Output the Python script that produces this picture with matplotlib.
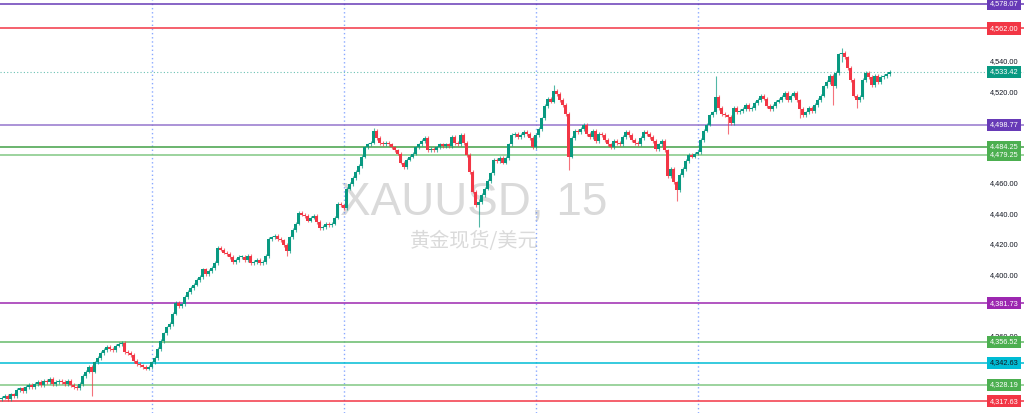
import matplotlib
matplotlib.use('Agg')
import matplotlib.pyplot as plt
import matplotlib.transforms as mtransforms
import numpy as np

# XAUUSD 15m closes (left to right)
first_open = 4319
closes = [
    4320, 4321, 4319, 4322, 4321, 4325, 4326, 4324, 4327, 4328,
    4327, 4329, 4330, 4328, 4331, 4330, 4332, 4329, 4330, 4331,
    4330, 4329, 4331, 4328, 4327, 4326, 4329, 4334, 4337, 4340,
    4337, 4343, 4346, 4349, 4351, 4353, 4352, 4351, 4354, 4355,
    4356, 4350, 4349, 4348, 4344, 4342, 4341, 4340, 4339, 4340,
    4343, 4346, 4352, 4357, 4362, 4366, 4368, 4375, 4382, 4380,
    4381, 4386, 4389, 4392, 4394, 4397, 4399, 4404, 4401, 4403,
    4405, 4408, 4418, 4417, 4415, 4414, 4412, 4409, 4410, 4412,
    4412, 4410, 4413, 4408, 4409, 4410, 4408, 4409, 4413, 4424,
    4425, 4426, 4424, 4423, 4420, 4416, 4425, 4430, 4434, 4441,
    4440, 4439, 4436, 4438, 4439, 4435, 4431, 4432, 4434, 4433,
    4434, 4438, 4447, 4446, 4444, 4457, 4460, 4464, 4468, 4472,
    4478, 4484, 4486, 4487, 4495, 4490, 4487, 4486, 4487, 4486,
    4484, 4482, 4480, 4474, 4471, 4476, 4478, 4480, 4484, 4486,
    4488, 4490, 4482, 4483, 4482, 4484, 4486, 4485, 4486, 4485,
    4491, 4487, 4486, 4492, 4487, 4479, 4468, 4455, 4446, 4448,
    4453, 4457, 4462, 4467, 4476, 4475, 4477, 4474, 4477, 4486,
    4492, 4493, 4491, 4492, 4494, 4493, 4490, 4484, 4492, 4496,
    4503, 4511, 4516, 4514, 4521, 4519, 4515, 4512, 4506, 4478,
    4490, 4495, 4494, 4496, 4499, 4493, 4491, 4495, 4488, 4493,
    4492, 4489, 4486, 4484, 4488, 4487, 4486, 4491, 4494, 4492,
    4489, 4487, 4486, 4490, 4494, 4493, 4491, 4488, 4483, 4486,
    4488, 4482, 4465, 4470, 4461, 4456, 4466, 4470, 4475, 4479,
    4478, 4480, 4481, 4489, 4495, 4499, 4505, 4507, 4517, 4510,
    4506, 4505, 4504, 4500, 4510, 4507, 4508, 4509, 4512, 4509,
    4510, 4513, 4515, 4518, 4516, 4511, 4509, 4511, 4514, 4515,
    4517, 4520, 4515, 4518, 4520, 4515, 4509, 4505, 4507, 4510,
    4508, 4512, 4515, 4518, 4524, 4527, 4531, 4524, 4533, 4545,
    4546, 4543, 4536, 4528, 4518, 4515, 4517, 4528, 4533, 4530,
    4525, 4531, 4527, 4530, 4531, 4532, 4533.42,
]

# candles with long wicks: index -> (high, low)
long_wicks = {
    30: (4341, 4321), 95: (4421, 4413), 124: (4497, 4486), 159: (4450, 4432),
    184: (4525, 4513), 189: (4507, 4469), 225: (4462, 4449), 238: (4531, 4506),
    242: (4506, 4493), 266: (4516, 4503), 277: (4532, 4512), 280: (4549, 4540),
    285: (4519, 4510),
}

# session separators (candle index)
session_starts = [50, 114, 178, 232]

# horizontal levels
level_prices = [4578.07, 4562.00, 4498.77, 4484.25, 4479.25,
                4381.73, 4356.52, 4342.63, 4328.19, 4317.63]
level_line_colors = ['#673ab7', '#f23645', '#9575cd', '#43a047', '#81c784',
                     '#9c27b0', '#66bb6a', '#00bcd4', '#81c784', '#f23645']
level_box_colors = ['#673ab7', '#f23645', '#673ab7', '#4caf50', '#4caf50',
                    '#9c27b0', '#4caf50', '#00bcd4', '#4caf50', '#f23645']
level_text_colors = ['white', 'white', 'white', 'white', 'white',
                     'white', 'white', '#131722', 'white', 'white']

last_price = 4533.42
axis_ticks = [4540, 4520, 4460, 4440, 4420, 4400, 4360, 4320]

UP = '#089981'
DOWN = '#f23645'

plt.rcParams['font.family'] = ['Liberation Sans', 'DejaVu Sans']

fig = plt.figure(figsize=(10.24, 4.13), dpi=100)
ax = fig.add_axes([0, 0, 1, 1])
ax.set_xlim(-0.5, 340.8)
ax.set_ylim(4309.84, 4580.66)
ax.axis('off')

# watermark
ax.text(0.463, 0.508, 'XAUUSD, 15', transform=ax.transAxes, ha='center', va='center',
        fontsize=33, color='#dadada', zorder=0)
ax.text(0.463, 0.416, '黄金现货/美元', transform=ax.transAxes, ha='center', va='center',
        fontsize=14.5, color='#dadada', family=['Noto Sans CJK SC', 'DejaVu Sans'], zorder=0)

# session separators
for s in session_starts:
    ax.axvline(s, color='#2962ff', linestyle=(0, (1, 2)), lw=1, alpha=0.55, zorder=1)

# candles
c = np.array(closes, dtype=float)
o = np.concatenate([[first_open], c[:-1]])
x = np.arange(len(c))
up = c >= o
colors = np.where(up, UP, DOWN)
top = np.maximum(o, c)
bot = np.minimum(o, c)
highs = top + 1.2
lows = bot - 1.2
for i, (h, l) in long_wicks.items():
    highs[i] = h
    lows[i] = l

ax.vlines(x, lows, highs, colors=colors, lw=0.8, alpha=0.7, zorder=3)
ax.bar(x, np.maximum(top - bot, 0.5), bottom=bot, width=0.78, color=colors,
       linewidth=0, zorder=4)

# last price dotted line
ax.axhline(last_price, color=UP, linestyle=(0, (1, 2)), lw=0.8, alpha=0.6, zorder=2)

trans = mtransforms.blended_transform_factory(ax.transAxes, ax.transData)

# price scale ticks
for t in axis_ticks:
    ax.text(1004 / 1024, t, f'{t:,.2f}', transform=trans, ha='center', va='center',
            fontsize=5.3, color='#131722', zorder=5)

# levels with boxes
for p, lc, bc, tc in zip(level_prices, level_line_colors, level_box_colors, level_text_colors):
    ax.axhline(p, color=lc, lw=1.1, zorder=2)
    ax.text(1004 / 1024, p, f'{p:,.2f}', transform=trans, ha='center', va='center',
            fontsize=5.3, color=tc, zorder=6,
            bbox=dict(boxstyle='square,pad=0.35', fc=bc, ec='none'))

ax.text(1004 / 1024, last_price, f'{last_price:,.2f}', transform=trans, ha='center',
        va='center', fontsize=5.3, color='white', zorder=6,
        bbox=dict(boxstyle='square,pad=0.35', fc=UP, ec='none'))

fig.savefig('out.png', dpi=100)
plt.close(fig)
